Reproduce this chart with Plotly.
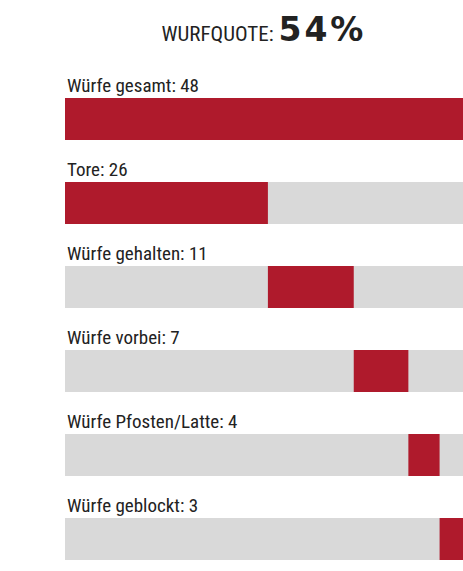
import plotly.graph_objects as go

# Data
categories = ["Würfe gesamt", "Tore", "Würfe gehalten", "Würfe vorbei",
              "Würfe Pfosten/Latte", "Würfe geblockt"]
values = [48, 26, 11, 7, 4, 3]
quote_label = "WURFQUOTE:"
quote_value = "54%"

RED = "#AF1A2C"
GRAY = "#D9D9D9"
TEXT = "#222222"
LABEL_FONT = "Liberation Sans Narrow, Arial Narrow, Roboto Condensed, sans-serif"

parts = values[1:]
track = sum(parts)

# stacked offsets for the parts, total bar spans whole track
bases = [0]
widths = [max(track, values[0])]
acc = 0
for v in parts:
    bases.append(acc)
    widths.append(v)
    acc += v

ys = list(range(len(categories)))

fig = go.Figure()
fig.add_trace(go.Bar(
    y=ys, x=[track] * len(ys), base=[0] * len(ys), orientation="h",
    marker=dict(color=GRAY, line=dict(width=0)), width=0.5,
    hoverinfo="skip", showlegend=False,
))
fig.add_trace(go.Bar(
    y=ys, x=widths, base=bases, orientation="h",
    marker=dict(color=RED, line=dict(width=0)), width=0.5,
    customdata=values, hovertemplate="%{customdata}<extra></extra>",
    showlegend=False,
))

for i, (c, v) in enumerate(zip(categories, values)):
    fig.add_annotation(
        x=0, xref="paper", xanchor="left",
        y=i - 0.4, yref="y", yanchor="middle",
        text=f"{c}: {v}", showarrow=False,
        font=dict(family=LABEL_FONT, size=19, color=TEXT),
    )

W, H = 463, 571
fig.update_layout(
    width=W, height=H,
    margin=dict(l=65, r=0, t=35, b=2),
    paper_bgcolor="white", plot_bgcolor="white",
    barmode="overlay",
    title=dict(
        text=(f"<span style='font-family:{LABEL_FONT};font-size:21px'>{quote_label} </span>"
              f"<span style='font-family:DejaVu Sans;font-weight:bold;letter-spacing:3px'>{quote_value}</span>"),
        x=(65 + W) / 2 / W, xanchor="center",
        y=1 - 29 / H, yanchor="middle", yref="container",
        font=dict(color=TEXT, size=33, family="DejaVu Sans"),
    ),
    xaxis=dict(range=[0, track], visible=False, fixedrange=True),
    yaxis=dict(range=[(569 - 119) / 84, -1], visible=False, fixedrange=True),
)

fig.write_html(
    "out.html",
    config={"displayModeBar": False},
    post_script="document.documentElement.style.overflow='hidden';"
                "document.body.style.margin='0';document.body.style.overflow='hidden';",
)
